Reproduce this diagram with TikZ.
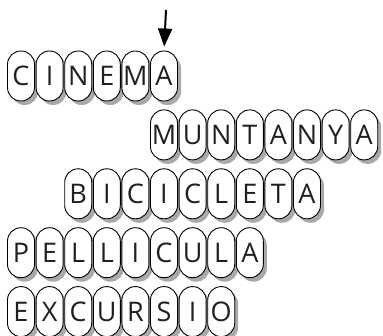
\documentclass[tikz,border=0pt]{standalone}
\usepackage{fontspec}
\setmainfont{Open Sans}
\usetikzlibrary{arrows.meta,shadows}
\definecolor{shadowgray}{HTML}{A7A9AC}
\definecolor{inkgray}{HTML}{231F20}
\tikzset{
  tile/.style={draw=black, line width=0.9pt, fill=white,
    minimum width=27pt, minimum height=50pt, inner sep=0pt,
    rounded corners=13.4pt, text=inkgray,
    font=\fontsize{27}{27}\selectfont,
    text height=19.5pt, text depth=0pt,
    drop shadow={shadow xshift=3.5pt, shadow yshift=-4pt, fill=shadowgray, opacity=1, draw=none}},
  pointer/.style={line width=2pt, -{Triangle[width=14pt,length=18pt]}}
}
\begin{document}
\begin{tikzpicture}[x=1pt,y=-1pt]
\useasboundingbox (0,0) rectangle (383,336);
\foreach \r/\c/\word in {1/0/{C,I,N,E,M,A},2/5/{M,U,N,T,A,N,Y,A},3/2/{B,I,C,I,C,L,E,T,A},4/0/{P,E,L,L,I,C,U,L,A},5/0/{E,X,C,U,R,S,I,O}}{
  \foreach \L [count=\i from 0] in \word {
    \node[tile] (t-\r-\i) at ({21+28.6*(\c+\i)},{76+58.9*(\r-1)}) {\L};
  }
}
\coordinate (arrtop) at (166,10);
\draw[pointer, shorten >=4pt] (arrtop) -- (t-1-5.north);
\end{tikzpicture}
\end{document}
